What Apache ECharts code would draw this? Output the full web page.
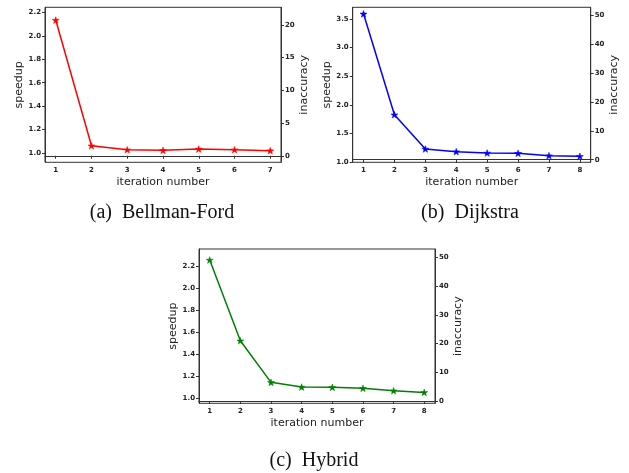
<!DOCTYPE html>
<html>
<head>
<meta charset="utf-8">
<script src="https://cdn.jsdelivr.net/npm/echarts@6/dist/echarts.min.js"></script>
<style>html,body{margin:0;padding:0;background:#fff}#c{width:629px;height:473px}</style>
</head>
<body>
<div id="c"></div>
<script>
// ---- data ----
const iterA = [1, 2, 3, 4, 5, 6, 7];
const speedupA = [2.134, 1.062, 1.028, 1.023, 1.034, 1.028, 1.020];
const iterB = [1, 2, 3, 4, 5, 6, 7, 8];
const speedupB = [3.59, 1.83, 1.232, 1.185, 1.162, 1.157, 1.115, 1.105];
const iterC = [1, 2, 3, 4, 5, 6, 7, 8];
const speedupC = [2.254, 1.522, 1.145, 1.102, 1.100, 1.091, 1.069, 1.054];

const speedupTicksA = [1.0, 1.2, 1.4, 1.6, 1.8, 2.0, 2.2];
const inaccTicksA = [0, 5, 10, 15, 20];
const speedupTicksB = [1.0, 1.5, 2.0, 2.5, 3.0, 3.5];
const inaccTicksB = [0, 10, 20, 30, 40, 50];
const speedupTicksC = [1.0, 1.2, 1.4, 1.6, 1.8, 2.0, 2.2];
const inaccTicksC = [0, 10, 20, 30, 40, 50];

const captions = ['(a)  Bellman-Ford', '(b)  Dijkstra', '(c)  Hybrid'];
const xTitle = 'iteration number';
const yLeftTitle = 'speedup';
const yRightTitle = 'inaccuracy';

// ---- layout/styling ----
const STAR = 'path://M0,-1L0.235,-0.324L0.951,-0.309L0.38,0.124L0.588,0.809L0,0.4L-0.588,0.809L-0.38,0.124L-0.951,-0.309L-0.235,-0.324Z';
const AX = '#333';
const tickLabel = {fontSize: 7, fontWeight: 'bold', color: '#222', fontFamily: 'DejaVu Sans', margin: 4};
const nameStyle = {fontSize: 11, color: '#222', fontFamily: 'DejaVu Sans'};

const panels = [
  {grid: {left: 45, top: 7.3, width: 236, height: 155}, xr: [0.7, 7.3], xt: iterA,
   yl: [0.921, 2.243], ylt: speedupTicksA, yr: [-1.0, 22.7], yrt: inaccTicksA, dec: 1,
   x: iterA, y: speedupA, color: '#ff0000'},
  {grid: {left: 352.7, top: 7.3, width: 238, height: 155}, xr: [0.65, 8.35], xt: iterB,
   yl: [1.0, 3.704], ylt: speedupTicksB, yr: [-0.9, 52.9], yrt: inaccTicksB, dec: 1,
   x: iterB, y: speedupB, color: '#0000ff'},
  {grid: {left: 199, top: 249, width: 236, height: 154.3}, xr: [0.65, 8.35], xt: iterC,
   yl: [0.955, 2.354], ylt: speedupTicksC, yr: [-0.8, 52.9], yrt: inaccTicksC, dec: 1,
   x: iterC, y: speedupC, color: '#008000'}
];

const grid = [], xAxis = [], yAxis = [], series = [];
panels.forEach((p, i) => {
  grid.push(Object.assign({show: true, borderColor: AX, borderWidth: 1, backgroundColor: 'transparent'}, p.grid));
  xAxis.push({
    type: 'value', gridIndex: i, min: p.xr[0], max: p.xr[1],
    name: xTitle, nameLocation: 'middle', nameGap: 14, nameTextStyle: nameStyle,
    axisLine: {show: true, lineStyle: {color: AX, width: 1}},
    axisTick: {show: true, length: 3, lineStyle: {color: AX}, customValues: p.xt},
    axisLabel: Object.assign({customValues: p.xt, formatter: v => String(v)}, tickLabel),
    splitLine: {show: false}
  });
  yAxis.push({
    type: 'value', gridIndex: i, position: 'left', min: p.yl[0], max: p.yl[1],
    name: yLeftTitle, nameLocation: 'middle', nameGap: 17, nameRotate: 90, nameTextStyle: nameStyle,
    axisLine: {show: true, onZero: false, lineStyle: {color: AX, width: 1}},
    axisTick: {show: true, length: 3, lineStyle: {color: AX}, customValues: p.ylt},
    axisLabel: Object.assign({customValues: p.ylt, formatter: v => v.toFixed(p.dec)}, tickLabel),
    splitLine: {show: false}
  });
  yAxis.push({
    type: 'value', gridIndex: i, position: 'right', min: p.yr[0], max: p.yr[1],
    name: yRightTitle, nameLocation: 'middle', nameGap: 14, nameRotate: 90, nameTextStyle: nameStyle,
    axisLine: {show: true, onZero: false, lineStyle: {color: AX, width: 1}},
    axisTick: {show: true, length: 3, lineStyle: {color: AX}, customValues: p.yrt},
    axisLabel: Object.assign({customValues: p.yrt, formatter: v => String(Math.round(v))}, tickLabel),
    splitLine: {show: false}
  });
  series.push({
    type: 'line', xAxisIndex: i, yAxisIndex: 2 * i,
    data: p.x.map((v, k) => [v, p.y[k]]),
    symbol: STAR, symbolSize: 7, symbolKeepAspect: true, showSymbol: true,
    lineStyle: {color: p.color, width: 1.5},
    itemStyle: {color: p.color, borderColor: p.color, borderWidth: 0.5},
    animation: false, silent: true
  });
});

const capStyle = {fontSize: 20, fontFamily: 'Liberation Serif', fill: '#111', textAlign: 'center', textVerticalAlign: 'middle'};
const graphic = [
  {type: 'text', style: Object.assign({text: captions[0], x: 162, y: 213}, capStyle)},
  {type: 'text', style: Object.assign({text: captions[1], x: 470, y: 213}, capStyle)},
  {type: 'text', style: Object.assign({text: captions[2], x: 314, y: 461}, capStyle)}
];

const chart = echarts.init(document.getElementById('c'), null, {renderer: 'canvas'});
chart.setOption({backgroundColor: '#fff', animation: false, grid, xAxis, yAxis, series, graphic});
</script>
</body>
</html>
